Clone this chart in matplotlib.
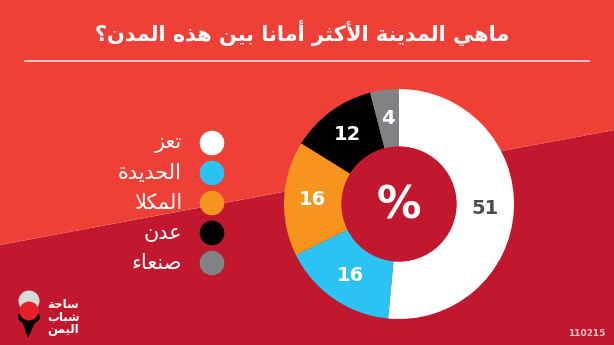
import matplotlib
matplotlib.use("Agg")
import matplotlib.pyplot as plt
from matplotlib.patches import Polygon, Circle, Ellipse

# data
cities = ["تعز", "الحديدة", "المكلا", "عدن", "صنعاء"]
values = [51, 16, 16, 12, 4]
colors = ["#ffffff", "#2bc3f3", "#f7941d", "#000000", "#808285"]
label_colors = ["#4d4d4d", "#ffffff", "#ffffff", "#ffffff", "#ffffff"]
title = "ماهي المدينة الأكثر أمانا بين هذه المدن؟"
logo_lines = ["ساحة", "شباب", "اليمن"]
code = "110215"

TOP_RED = "#ee4036"
LOW_RED = "#c1182f"

# minimal arabic shaping (matplotlib has no complex text layout)
FORMS = {
    "ء": ("\uFE80", None, None, None),
    "أ": ("\uFE83", "\uFE84", None, None),
    "ا": ("\uFE8D", "\uFE8E", None, None),
    "ب": ("\uFE8F", "\uFE90", "\uFE91", "\uFE92"),
    "ة": ("\uFE93", "\uFE94", None, None),
    "ت": ("\uFE95", "\uFE96", "\uFE97", "\uFE98"),
    "ث": ("\uFE99", "\uFE9A", "\uFE9B", "\uFE9C"),
    "ح": ("\uFEA1", "\uFEA2", "\uFEA3", "\uFEA4"),
    "د": ("\uFEA9", "\uFEAA", None, None),
    "ذ": ("\uFEAB", "\uFEAC", None, None),
    "ر": ("\uFEAD", "\uFEAE", None, None),
    "ز": ("\uFEAF", "\uFEB0", None, None),
    "س": ("\uFEB1", "\uFEB2", "\uFEB3", "\uFEB4"),
    "ش": ("\uFEB5", "\uFEB6", "\uFEB7", "\uFEB8"),
    "ص": ("\uFEB9", "\uFEBA", "\uFEBB", "\uFEBC"),
    "ع": ("\uFEC9", "\uFECA", "\uFECB", "\uFECC"),
    "ك": ("\uFED9", "\uFEDA", "\uFEDB", "\uFEDC"),
    "ل": ("\uFEDD", "\uFEDE", "\uFEDF", "\uFEE0"),
    "م": ("\uFEE1", "\uFEE2", "\uFEE3", "\uFEE4"),
    "ن": ("\uFEE5", "\uFEE6", "\uFEE7", "\uFEE8"),
    "ه": ("\uFEE9", "\uFEEA", "\uFEEB", "\uFEEC"),
    "ي": ("\uFEF1", "\uFEF2", "\uFEF3", "\uFEF4"),
    "لا": ("\uFEFB", "\uFEFC", None, None),
    "لأ": ("\uFEF7", "\uFEF8", None, None),
}


def shape(text):
    tokens = []
    i = 0
    while i < len(text):
        pair = text[i:i + 2]
        if pair in ("لا", "لأ"):
            tokens.append(pair)
            i += 2
        else:
            tokens.append(text[i])
            i += 1
    out = []
    for k, t in enumerate(tokens):
        if t not in FORMS:
            out.append(t)
            continue
        prev = tokens[k - 1] if k > 0 else None
        nxt = tokens[k + 1] if k + 1 < len(tokens) else None
        f = FORMS[t]
        join_prev = prev in FORMS and FORMS[prev][2] is not None and f[1] is not None
        join_next = f[2] is not None and nxt in FORMS and FORMS[nxt][1] is not None
        if join_prev and join_next:
            out.append(f[3])
        elif join_prev:
            out.append(f[1])
        elif join_next:
            out.append(f[2])
        else:
            out.append(f[0])
    return "".join(out)[::-1]


W, H = 614, 345
fig = plt.figure(figsize=(W / 100, H / 100), dpi=100)
ax = fig.add_axes([0, 0, 1, 1])

# center and radius in pixel coords (y up)
cx, cy, R = 399, H - 204, 115
ax.pie(values, colors=colors, startangle=90, counterclock=False,
       radius=R, center=(cx, cy), wedgeprops=dict(width=R * 0.5, linewidth=0),
       labels=[str(v) for v in values], labeldistance=0.75,
       textprops=dict(fontsize=14, fontweight="bold", ha="center", va="center"))
for t, c in zip(ax.texts, label_colors):
    t.set_color(c)

ax.set_xlim(0, W)
ax.set_ylim(0, H)
ax.set_aspect("auto")
ax.axis("off")

# background split along a diagonal
ax.add_patch(Polygon([(0, 0), (W, 0), (W, H - 130), (0, H - 245)],
                     closed=True, facecolor=LOW_RED, zorder=-2))
ax.add_patch(Polygon([(0, H - 245), (W, H - 130), (W, H), (0, H)],
                     closed=True, facecolor=TOP_RED, zorder=-2))

# hole of the donut
ax.add_patch(Circle((cx, cy), R * 0.5, facecolor=LOW_RED, zorder=5))
ax.text(cx, cy - 2, "%", color="white", fontsize=32, fontweight="bold",
        ha="center", va="center", zorder=6)

# title + rule
ax.text(509, H - 33, shape(title), color="white", fontsize=15, fontweight="bold",
        ha="right", va="center")
ax.plot([25, 589], [H - 61, H - 61], color="white", alpha=0.8, linewidth=1.2)

# legend
for i, (name, col) in enumerate(zip(cities, colors)):
    y = H - (143 + 30 * i)
    ax.add_patch(Circle((212, y), 12.3, facecolor=col, zorder=3))
    ax.text(182, y, shape(name), color="white", fontsize=15, ha="right", va="center")

# logo
ax.add_patch(Circle((29, H - 301), 10.5, facecolor="#d9d9d9", zorder=3))
ax.add_patch(Polygon([(21, H - 318), (37, H - 318), (28, H - 338)], closed=True,
                     facecolor="black", zorder=3))
ax.add_patch(Ellipse((29, H - 317), 22, 14, facecolor="black", zorder=3))
ax.add_patch(Circle((29, H - 311), 9.5, facecolor="#e8202a", zorder=4))
for i, line in enumerate(logo_lines):
    ax.text(47, H - (304 + 13 * i), shape(line), color="white", fontsize=8.5,
            fontweight="bold", ha="left", va="center")

ax.text(605, H - 333, code, color="#f5c6cc", fontsize=6.5, fontweight="bold",
        ha="right", va="center")

fig.savefig("out.png", dpi=100)
